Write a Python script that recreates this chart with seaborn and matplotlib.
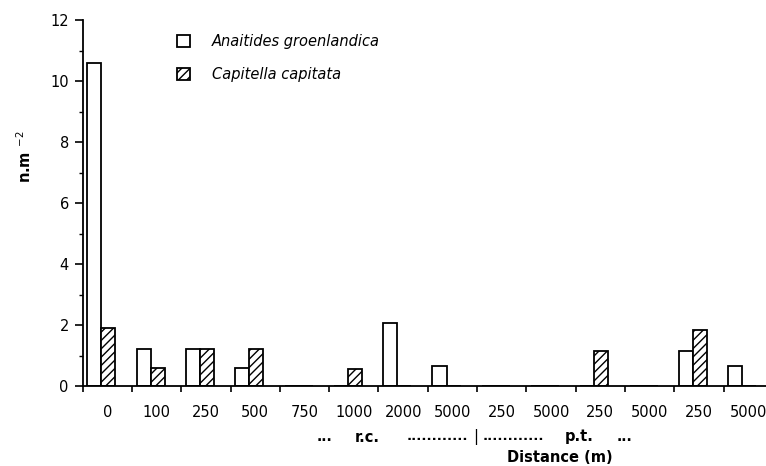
import numpy as np
import pandas as pd
import matplotlib
matplotlib.use("Agg")
import matplotlib.pyplot as plt
from matplotlib.patches import Patch
from matplotlib.ticker import MultipleLocator, FixedLocator
import seaborn as sns

# ---- data ----
distance_labels = ["0", "100", "250", "500", "750", "1000", "2000", "5000",
                   "250", "5000", "250", "5000", "250", "5000"]
anaitides = [10.6, 1.2, 1.2, 0.6, 0.0, 0.0, 2.05, 0.65,
             0.0, 0.0, 0.0, 0.0, 1.15, 0.65]
capitella = [1.9, 0.6, 1.2, 1.2, 0.0, 0.55, 0.0, 0.0,
             0.0, 0.0, 1.15, 0.0, 1.85, 0.0]
species = ["Anaitides groenlandica", "Capitella capitata"]

n = len(distance_labels)
group_ids = [str(i) for i in range(n)]
df = pd.DataFrame({
    "group": group_ids * 2,
    "species": [species[0]] * n + [species[1]] * n,
    "value": anaitides + capitella,
})

sns.set_style("ticks", {"axes.edgecolor": "black", "text.color": "black",
                        "xtick.color": "black", "ytick.color": "black",
                        "axes.labelcolor": "black"})
plt.rcParams["font.family"] = ["DejaVu Sans"]
plt.rcParams["hatch.linewidth"] = 1.0
plt.rcParams["hatch.color"] = "black"

W, H = 766, 466
fig = plt.figure(figsize=(W / 100, H / 100), dpi=100)
ax = fig.add_axes([82.7 / W, 80 / H, 14 * 49.3 / W, 366 / H])

sns.barplot(data=df, x="group", y="value", hue="species", order=group_ids,
            hue_order=species, palette=["white", "white"], width=0.57,
            edgecolor="black", linewidth=1.3, saturation=1, ax=ax, legend=False)
for p in ax.containers[1]:
    p.set_hatch("////")

off = 0.12
ax.set_xlim(-0.5 + off, n - 0.5 + off)
ax.set_ylim(0, 12)

ax.xaxis.set_major_locator(FixedLocator(np.arange(n) + off))
ax.set_xticklabels(distance_labels)
ax.xaxis.set_minor_locator(FixedLocator(np.arange(n + 1) - 0.5 + off))
ax.tick_params(axis="x", which="major", length=0, pad=14, labelsize=10.5,
               labelcolor="black")
ax.tick_params(axis="x", which="minor", length=4, width=1.2, direction="out",
               color="black")

ax.yaxis.set_major_locator(MultipleLocator(2))
ax.yaxis.set_minor_locator(MultipleLocator(1))
ax.tick_params(axis="y", which="major", length=6, width=1.2, labelsize=10.5,
               pad=4, color="black", labelcolor="black")
ax.tick_params(axis="y", which="minor", length=3, width=1.0, color="black")

for s in ["top", "right"]:
    ax.spines[s].set_visible(False)
for s in ["left", "bottom"]:
    ax.spines[s].set_linewidth(1.3)
    ax.spines[s].set_color("black")

ax.set_xlabel("")
ax.set_ylabel("n.m $^{-2}$", fontsize=10.5, fontweight="bold", color="black")
ax.yaxis.set_label_coords(-0.07, 0.626)

handles = [Patch(facecolor="white", edgecolor="black", linewidth=1.3),
           Patch(facecolor="white", edgecolor="black", linewidth=1.3, hatch="////")]
fig.legend(handles, species, loc="upper left",
           bbox_to_anchor=(167 / W, 1 - 24 / H), frameon=False,
           prop={"style": "italic", "size": 10.5},
           handlelength=0.9, handleheight=0.9, handletextpad=1.5,
           labelspacing=1.2, borderpad=0.2)

# region annotation row
ty = 1 - 437 / H
kw = dict(ha="center", va="center", color="black")
fig.text(325 / W, ty, "...", fontsize=10, fontweight="bold", **kw)
fig.text(367 / W, ty, "r.c.", fontsize=10.5, fontweight="bold", **kw)
fig.text(437 / W, ty, "............", fontsize=9.5, fontweight="bold", **kw)
fig.text(475.5 / W, ty, "|", fontsize=11, **kw)
fig.text(513 / W, ty, "............", fontsize=9.5, fontweight="bold", **kw)
fig.text(579 / W, ty, "p.t.", fontsize=10.5, fontweight="bold", **kw)
fig.text(625 / W, ty, "...", fontsize=10, fontweight="bold", **kw)
fig.text(560 / W, 1 - 458 / H, "Distance (m)", fontsize=10.5,
         fontweight="bold", **kw)

fig.savefig("out.png", dpi=100)
